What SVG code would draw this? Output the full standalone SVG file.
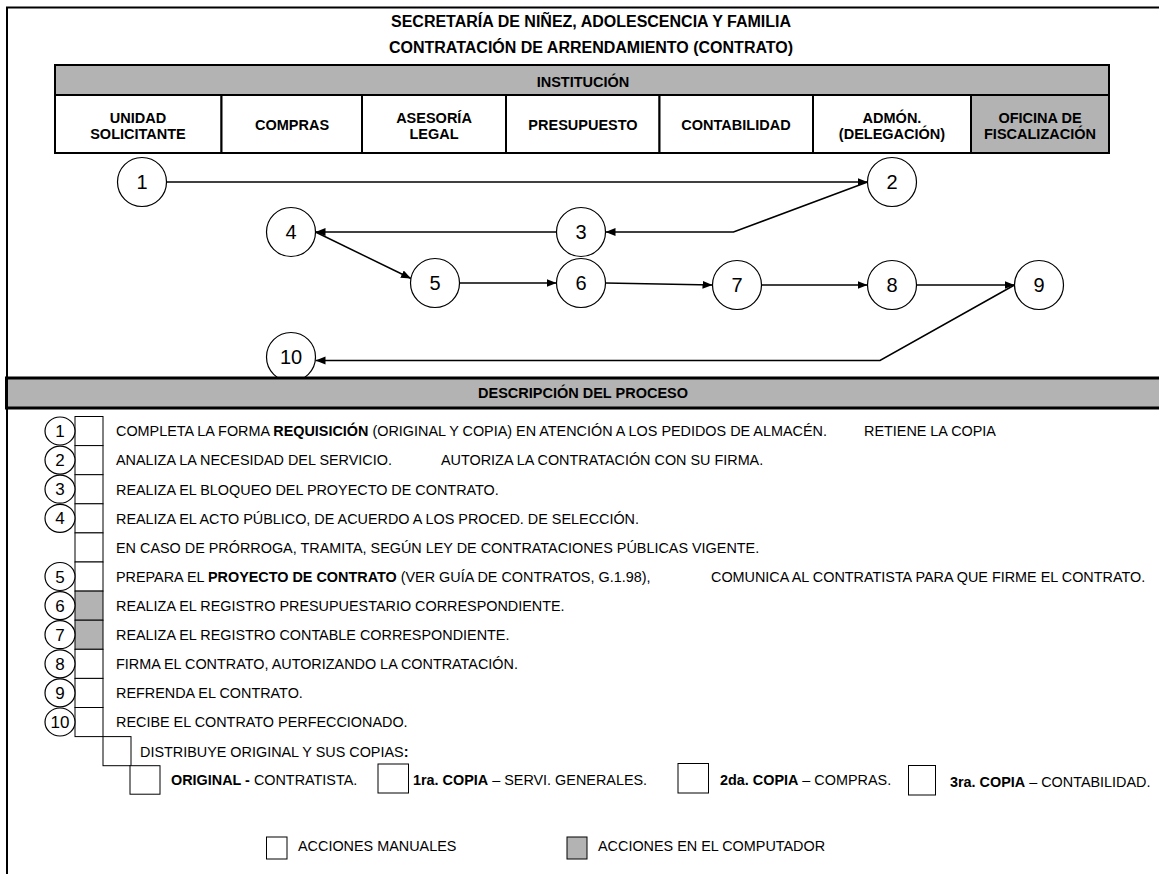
<svg xmlns="http://www.w3.org/2000/svg" width="1159" height="874" viewBox="0 0 1159 874">
  <defs>
    <style>
      text { font-family: "Liberation Sans", Arial, sans-serif; fill: #000; }
      .title { font-size: 16px; font-weight: bold; text-anchor: middle; }
      .hdr { font-size: 14.5px; font-weight: bold; text-anchor: middle; }
      .num { font-size: 20px; text-anchor: middle; }
      .snum { font-size: 17px; text-anchor: middle; }
      .desc { font-size: 14.4px; }
      .b { font-weight: bold; }
      .cell { fill: #fff; stroke: #000; stroke-width: 2; }
      .grey { fill: #b3b3b3; }
      .node { fill: #fff; stroke: #000; stroke-width: 1.2; }
      .box { fill: #fff; stroke: #000; stroke-width: 1; }
      .gbox { fill: #b3b3b3; stroke: #000; stroke-width: 1; }
      .conn { fill: none; stroke: #000; stroke-width: 1.5; marker-end: url(#arrow); }
    </style>
    <marker id="arrow" markerUnits="userSpaceOnUse" markerWidth="11" markerHeight="9" refX="10" refY="4" orient="auto">
      <path d="M0,0 L10,4 L0,8 z" fill="#000"/>
    </marker>
  </defs>

  <rect width="1159" height="874" fill="#fff"/>

  <!-- page frame -->
  <path d="M7,874 V7.5 H1159" fill="none" stroke="#000" stroke-width="2"/>

  <!-- titles -->
  <text class="title" x="591" y="27">SECRETARÍA DE NIÑEZ, ADOLESCENCIA Y FAMILIA</text>
  <text class="title" x="591" y="52.5">CONTRATACIÓN DE ARRENDAMIENTO (CONTRATO)</text>

  <!-- institution header -->
  <g id="institucion">
    <rect class="cell grey" x="55" y="65" width="1054" height="30"/>
    <text class="hdr" x="583" y="87">INSTITUCIÓN</text>
  </g>
  <g id="col-unidad">
    <rect class="cell" x="55" y="95" width="166.5" height="58"/>
    <text class="hdr" x="138" y="122.5">UNIDAD</text>
    <text class="hdr" x="138" y="138.5">SOLICITANTE</text>
  </g>
  <g id="col-compras">
    <rect class="cell" x="221.5" y="95" width="140.5" height="58"/>
    <text class="hdr" x="292" y="129.5">COMPRAS</text>
  </g>
  <g id="col-asesoria">
    <rect class="cell" x="362" y="95" width="144" height="58"/>
    <text class="hdr" x="434" y="122.5">ASESORÍA</text>
    <text class="hdr" x="434" y="138.5">LEGAL</text>
  </g>
  <g id="col-presupuesto">
    <rect class="cell" x="506" y="95" width="153.5" height="58"/>
    <text class="hdr" x="583" y="129.5">PRESUPUESTO</text>
  </g>
  <g id="col-contabilidad">
    <rect class="cell" x="659.5" y="95" width="153.5" height="58"/>
    <text class="hdr" x="736" y="129.5">CONTABILIDAD</text>
  </g>
  <g id="col-admon">
    <rect class="cell" x="813" y="95" width="158" height="58"/>
    <text class="hdr" x="892" y="122.5">ADMÓN.</text>
    <text class="hdr" x="892" y="138.5">(DELEGACIÓN)</text>
  </g>
  <g id="col-oficina">
    <rect class="cell grey" x="971" y="95" width="138" height="58"/>
    <text class="hdr" x="1040" y="122.5">OFICINA DE</text>
    <text class="hdr" x="1040" y="138.5">FISCALIZACIÓN</text>
  </g>

  <!-- flow connectors -->
  <g id="connectors">
    <path class="conn" d="M166.5,182 H867.5"/>
    <path class="conn" d="M867.5,182 L733.5,232 H605.5"/>
    <path class="conn" d="M556.5,232 H315.5"/>
    <path class="conn" d="M315.5,232 L411,278.5"/>
    <path class="conn" d="M459.5,283 H556.5"/>
    <path class="conn" d="M605.5,283 L712.5,285"/>
    <path class="conn" d="M761.5,285 H867.5"/>
    <path class="conn" d="M916.5,285 H1014.5"/>
    <path class="conn" d="M1014.5,285 L880,360.5 H315.5"/>
  </g>

  <!-- flow steps -->
  <g id="step-1"><circle class="node" cx="142" cy="182" r="24.5"/><text class="num" x="142" y="189">1</text></g>
  <g id="step-2"><circle class="node" cx="892" cy="182" r="24.5"/><text class="num" x="892" y="189">2</text></g>
  <g id="step-3"><circle class="node" cx="581" cy="232" r="24.5"/><text class="num" x="581" y="239">3</text></g>
  <g id="step-4"><circle class="node" cx="291" cy="232" r="24.5"/><text class="num" x="291" y="239">4</text></g>
  <g id="step-5"><circle class="node" cx="435" cy="283" r="24.5"/><text class="num" x="435" y="290">5</text></g>
  <g id="step-6"><circle class="node" cx="581" cy="283" r="24.5"/><text class="num" x="581" y="290">6</text></g>
  <g id="step-7"><circle class="node" cx="737" cy="285" r="24.5"/><text class="num" x="737" y="292">7</text></g>
  <g id="step-8"><circle class="node" cx="892" cy="285" r="24.5"/><text class="num" x="892" y="292">8</text></g>
  <g id="step-9"><circle class="node" cx="1039" cy="285" r="24.5"/><text class="num" x="1039" y="292">9</text></g>
  <g id="step-10"><circle class="node" cx="291" cy="357" r="24.5"/><text class="num" x="291" y="364">10</text></g>

  <!-- process description header -->
  <g id="descripcion">
    <rect x="6.5" y="378" width="1160" height="30" fill="#b3b3b3" stroke="#000" stroke-width="3"/>
    <text class="hdr" x="583" y="398">DESCRIPCIÓN DEL PROCESO</text>
  </g>

  <!-- process description rows -->
  <g id="row-1">
    <rect class="box" x="75" y="416.5" width="28" height="29.1"/>
    <ellipse class="node" cx="60" cy="431" rx="15" ry="14"/><text class="snum" x="60" y="437">1</text>
    <text class="desc" x="116" y="436.3">COMPLETA LA FORMA <tspan class="b">REQUISICIÓN</tspan> (ORIGINAL Y COPIA) EN ATENCIÓN A LOS PEDIDOS DE ALMACÉN.</text>
    <text class="desc" x="864" y="436.3">RETIENE LA COPIA</text>
  </g>
  <g id="row-2">
    <rect class="box" x="75" y="445.6" width="28" height="29.1"/>
    <ellipse class="node" cx="60" cy="460.1" rx="15" ry="14"/><text class="snum" x="60" y="466.1">2</text>
    <text class="desc" x="116" y="465.4">ANALIZA LA NECESIDAD DEL SERVICIO.</text>
    <text class="desc" x="441" y="465.4">AUTORIZA LA CONTRATACIÓN CON SU FIRMA.</text>
  </g>
  <g id="row-3">
    <rect class="box" x="75" y="474.7" width="28" height="29.1"/>
    <ellipse class="node" cx="60" cy="489.2" rx="15" ry="14"/><text class="snum" x="60" y="495.2">3</text>
    <text class="desc" x="116" y="494.5">REALIZA EL BLOQUEO DEL PROYECTO DE CONTRATO.</text>
  </g>
  <g id="row-4">
    <rect class="box" x="75" y="503.8" width="28" height="29.1"/>
    <ellipse class="node" cx="60" cy="518.3" rx="15" ry="14"/><text class="snum" x="60" y="524.3">4</text>
    <text class="desc" x="116" y="523.6">REALIZA EL ACTO PÚBLICO, DE ACUERDO A LOS PROCED. DE SELECCIÓN.</text>
  </g>
  <g id="row-4b">
    <rect class="box" x="75" y="532.9" width="28" height="29.1"/>
    <text class="desc" x="116" y="552.7">EN CASO DE PRÓRROGA, TRAMITA, SEGÚN LEY DE CONTRATACIONES PÚBLICAS VIGENTE.</text>
  </g>
  <g id="row-5">
    <rect class="box" x="75" y="562" width="28" height="29.1"/>
    <ellipse class="node" cx="60" cy="576.5" rx="15" ry="14"/><text class="snum" x="60" y="582.5">5</text>
    <text class="desc" x="116" y="581.8">PREPARA EL <tspan class="b">PROYECTO DE CONTRATO</tspan> (VER GUÍA DE CONTRATOS, G.1.98),</text>
    <text class="desc" x="711" y="581.8">COMUNICA AL CONTRATISTA PARA QUE FIRME EL CONTRATO.</text>
  </g>
  <g id="row-6">
    <rect class="gbox" x="75" y="591.1" width="28" height="29.1"/>
    <ellipse class="node" cx="60" cy="605.6" rx="15" ry="14"/><text class="snum" x="60" y="611.6">6</text>
    <text class="desc" x="116" y="610.9">REALIZA EL REGISTRO PRESUPUESTARIO CORRESPONDIENTE.</text>
  </g>
  <g id="row-7">
    <rect class="gbox" x="75" y="620.2" width="28" height="29.1"/>
    <ellipse class="node" cx="60" cy="634.7" rx="15" ry="14"/><text class="snum" x="60" y="640.7">7</text>
    <text class="desc" x="116" y="640">REALIZA EL REGISTRO CONTABLE CORRESPONDIENTE.</text>
  </g>
  <g id="row-8">
    <rect class="box" x="75" y="649.3" width="28" height="29.1"/>
    <ellipse class="node" cx="60" cy="663.8" rx="15" ry="14"/><text class="snum" x="60" y="669.8">8</text>
    <text class="desc" x="116" y="669.1">FIRMA EL CONTRATO, AUTORIZANDO LA CONTRATACIÓN.</text>
  </g>
  <g id="row-9">
    <rect class="box" x="75" y="678.4" width="28" height="29.1"/>
    <ellipse class="node" cx="60" cy="692.9" rx="15" ry="14"/><text class="snum" x="60" y="698.9">9</text>
    <text class="desc" x="116" y="698.2">REFRENDA EL CONTRATO.</text>
  </g>
  <g id="row-10">
    <rect class="box" x="75" y="707.5" width="28" height="29.1"/>
    <ellipse class="node" cx="60" cy="722" rx="15" ry="14"/><text class="snum" x="60" y="728">10</text>
    <text class="desc" x="116" y="727.3">RECIBE EL CONTRATO PERFECCIONADO.</text>
  </g>
  <g id="row-distribuye">
    <rect class="box" x="103" y="736.6" width="28" height="29.1"/>
    <text class="desc" x="140" y="757">DISTRIBUYE ORIGINAL Y SUS COPIAS<tspan class="b">:</tspan></text>
  </g>
  <g id="dist-original">
    <rect class="box" x="130" y="765.7" width="30" height="28.5"/>
    <text class="desc" x="171" y="785"><tspan class="b">ORIGINAL -</tspan> CONTRATISTA.</text>
  </g>
  <g id="dist-copia1">
    <rect class="box" x="378" y="764" width="30.5" height="29"/>
    <text class="desc" x="413" y="785"><tspan class="b">1ra. COPIA</tspan> – SERVI. GENERALES.</text>
  </g>
  <g id="dist-copia2">
    <rect class="box" x="678" y="763.5" width="30.5" height="29.5"/>
    <text class="desc" x="720" y="785"><tspan class="b">2da. COPIA</tspan> – COMPRAS.</text>
  </g>
  <g id="dist-copia3">
    <rect class="box" x="908.5" y="765.5" width="27" height="29.5"/>
    <text class="desc" x="950" y="787"><tspan class="b">3ra. COPIA</tspan> – CONTABILIDAD.</text>
  </g>

  <!-- legend -->
  <g id="legend-manual">
    <rect class="box" x="266.5" y="837" width="20.5" height="22"/>
    <text class="desc" x="298" y="851">ACCIONES MANUALES</text>
  </g>
  <g id="legend-computador">
    <rect class="gbox" x="567" y="837" width="20" height="22"/>
    <text class="desc" x="598" y="851">ACCIONES EN EL COMPUTADOR</text>
  </g>
</svg>
